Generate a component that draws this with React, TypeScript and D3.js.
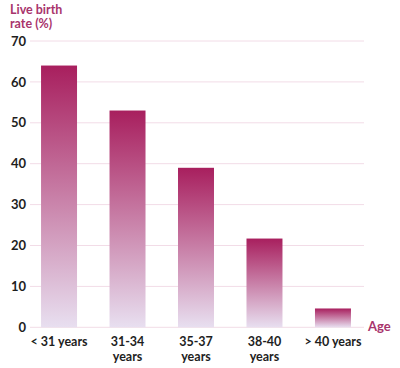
import React from "react";
import * as d3 from "d3";

const categories: string[][] = [["< 31 years"], ["31-34", "years"], ["35-37", "years"], ["38-40", "years"], ["> 40 years"]];
const values: number[] = [64, 53, 39, 21.7, 4.6];
const yTicks: number[] = [0, 10, 20, 30, 40, 50, 60, 70];

export default function App() {
  const width = 400, height = 368;
  const x0 = 30, x1 = 364;
  const y = d3.scaleLinear().domain([0, 70]).range([327.3, 41]);
  const x = d3.scaleBand<number>().domain(d3.range(values.length)).range([20.5, 371.5]).paddingInner(0.4745).paddingOuter(0.3);
  const font = "Lato, 'Open Sans', sans-serif";
  return (
    <svg width={width} height={height} style={{ position: "absolute", left: 0, top: 0 }}>
      <defs>
        <linearGradient id="barGrad" x1="0" y1="0" x2="0" y2="1">
          <stop offset="0%" stopColor="#a81f5e" />
          <stop offset="100%" stopColor="#e8dff0" />
        </linearGradient>
      </defs>
      <rect width={width} height={height} fill="#fff" />
      <text x={10} y={13.5} fill="#a8346c" fontFamily={font} fontWeight={700} fontSize={12.5}>Live birth</text>
      <text x={10} y={28} fill="#a8346c" fontFamily={font} fontWeight={700} fontSize={12.5}>rate (%)</text>
      {yTicks.map((t) => (
        <g key={t}>
          <line x1={x0} x2={x1} y1={y(t)} y2={y(t)} stroke="#f2dce7" strokeWidth={1} />
          <text x={26} y={y(t)} dy="0.36em" textAnchor="end" fill="#1e1e1e" fontFamily={font} fontWeight={700} fontSize={13}>{t}</text>
        </g>
      ))}
      {values.map((v, i) => (
        <rect key={i} x={x(i)} y={y(v)} width={x.bandwidth()} height={y(0) - y(v)} fill="url(#barGrad)" />
      ))}
      {categories.map((lines, i) => (
        <text key={i} textAnchor="middle" fill="#1e1e1e" fontFamily={font} fontWeight={700} fontSize={12.5}>
          {lines.map((l, j) => (
            <tspan key={j} x={(x(i) as number) + x.bandwidth() / 2} y={346 + j * 15}>{l}</tspan>
          ))}
        </text>
      ))}
      <text x={368} y={331} fill="#a8346c" fontFamily={font} fontWeight={700} fontSize={13}>Age</text>
    </svg>
  );
}
